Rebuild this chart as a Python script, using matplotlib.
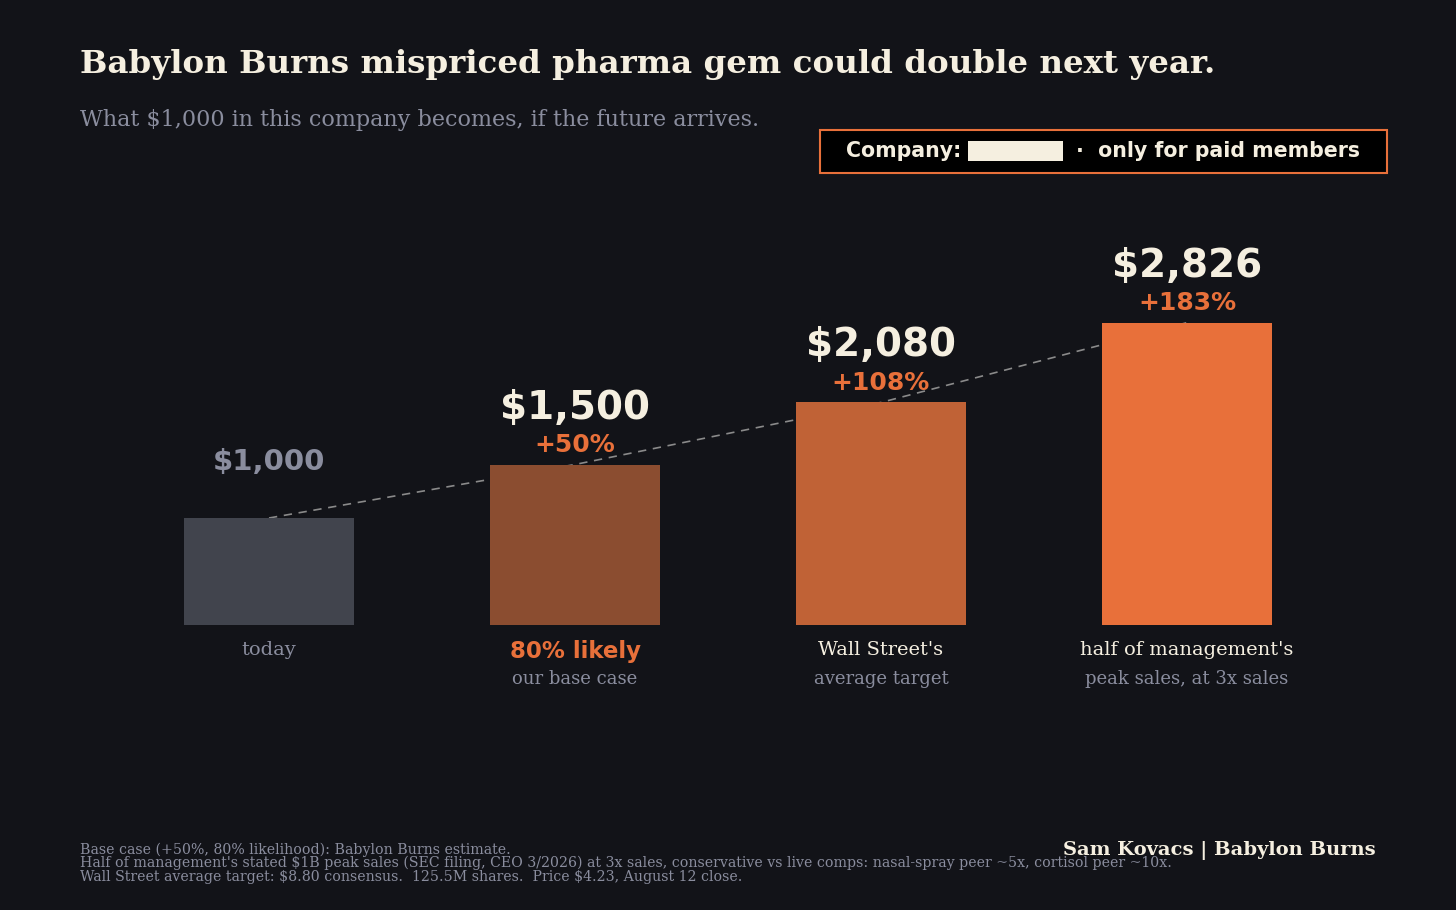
import matplotlib
matplotlib.use("Agg")
import matplotlib.pyplot as plt
from matplotlib.patches import Rectangle

values = [1000, 1500, 2080, 2826]
value_labels = ["\\$1,000", "\\$1,500", "\\$2,080", "\\$2,826"]
pct_labels = ["", "+50%", "+108%", "+183%"]
top_labels = ["today", "80% likely", "Wall Street's", "half of management's"]
sub_labels = ["", "our base case", "average target", "peak sales, at 3x sales"]
bar_colors = ["#41444d", "#8b4d30", "#c06236", "#e8703a"]

BG = "#121318"
CREAM = "#f5efe0"
GREY = "#8a8d9e"
ORANGE = "#e8703a"

W, H = 1456, 910
fig = plt.figure(figsize=(W / 100, H / 100), dpi=100, facecolor=BG)
ax = fig.add_axes([116 / W, 1 - 625 / H, 1224 / W, 428 / H])
ax.set_facecolor(BG)
ax.set_xlim(-0.5, 3.5)
ax.set_ylim(0, 4000)
ax.axis("off")

x = range(len(values))
ax.bar(x, values, width=0.556, color=bar_colors, zorder=2)
ax.plot(x, values, ls=(0, (5, 4)), color="#8a8a8a", lw=1.2, zorder=1)

for i, v in enumerate(values):
    if i == 0:
        ax.annotate(value_labels[i], (i, v), xytext=(0, 40), textcoords="offset points",
                    ha="center", va="center", fontsize=21, fontweight="bold", color=GREY)
    else:
        ax.annotate(value_labels[i], (i, v), xytext=(0, 41), textcoords="offset points",
                    ha="center", va="center", fontsize=28, fontweight="bold", color=CREAM)
        ax.annotate(pct_labels[i], (i, v), xytext=(0, 14), textcoords="offset points",
                    ha="center", va="center", fontsize=18, fontweight="bold", color=ORANGE)

for i in x:
    if i == 0:
        ax.annotate(top_labels[i], (i, 0), xytext=(0, -18), textcoords="offset points",
                    ha="center", va="center", fontsize=14, family="DejaVu Serif", color=GREY)
    elif i == 1:
        ax.annotate(top_labels[i], (i, 0), xytext=(0, -19), textcoords="offset points",
                    ha="center", va="center", fontsize=16.5, fontweight="bold", color=ORANGE)
    else:
        ax.annotate(top_labels[i], (i, 0), xytext=(0, -18), textcoords="offset points",
                    ha="center", va="center", fontsize=14, family="DejaVu Serif", color=CREAM)
    if sub_labels[i]:
        ax.annotate(sub_labels[i], (i, 0), xytext=(0, -39), textcoords="offset points",
                    ha="center", va="center", fontsize=13, family="DejaVu Serif", color=GREY)

fig.text(80 / W, 1 - 64 / H, "Babylon Burns mispriced pharma gem could double next year.",
         fontsize=23.4, fontweight="bold", family="DejaVu Serif", color=CREAM, va="center")
fig.text(80 / W, 1 - 120 / H, "What \\$1,000 in this company becomes, if the future arrives.",
         fontsize=16, family="DejaVu Serif", color=GREY, va="center")

# members box
fig.patches.append(Rectangle((820 / W, 1 - 173 / H), 567 / W, 43 / H, transform=fig.transFigure,
                             facecolor="black", edgecolor=ORANGE, lw=1.5))
fig.text(846 / W, 1 - 151 / H, "Company:", fontsize=14.8, fontweight="bold", color=CREAM, va="center")
fig.patches.append(Rectangle((968 / W, 1 - 161 / H), 95 / W, 20 / H, transform=fig.transFigure,
                             facecolor=CREAM, edgecolor="none"))
fig.text(1076 / W, 1 - 151 / H, "·  only for paid members", fontsize=14.8, fontweight="bold",
         color=CREAM, va="center")

notes = ("Base case (+50%, 80% likelihood): Babylon Burns estimate.\n"
         "Half of management's stated \\$1B peak sales (SEC filing, CEO 3/2026) at 3x sales, "
         "conservative vs live comps: nasal-spray peer ~5x, cortisol peer ~10x.\n"
         "Wall Street average target: \\$8.80 consensus.  125.5M shares.  Price \\$4.23, August 12 close.")
fig.text(80 / W, 1 - 863 / H, notes, fontsize=10.2, family="DejaVu Serif", color=GREY,
         va="center", linespacing=0.95)
fig.text(1376 / W, 1 - 850 / H, "Sam Kovacs | Babylon Burns", fontsize=14, fontweight="bold",
         family="DejaVu Serif", color=CREAM, va="center", ha="right")

fig.savefig("out.png", dpi=100, facecolor=BG)
